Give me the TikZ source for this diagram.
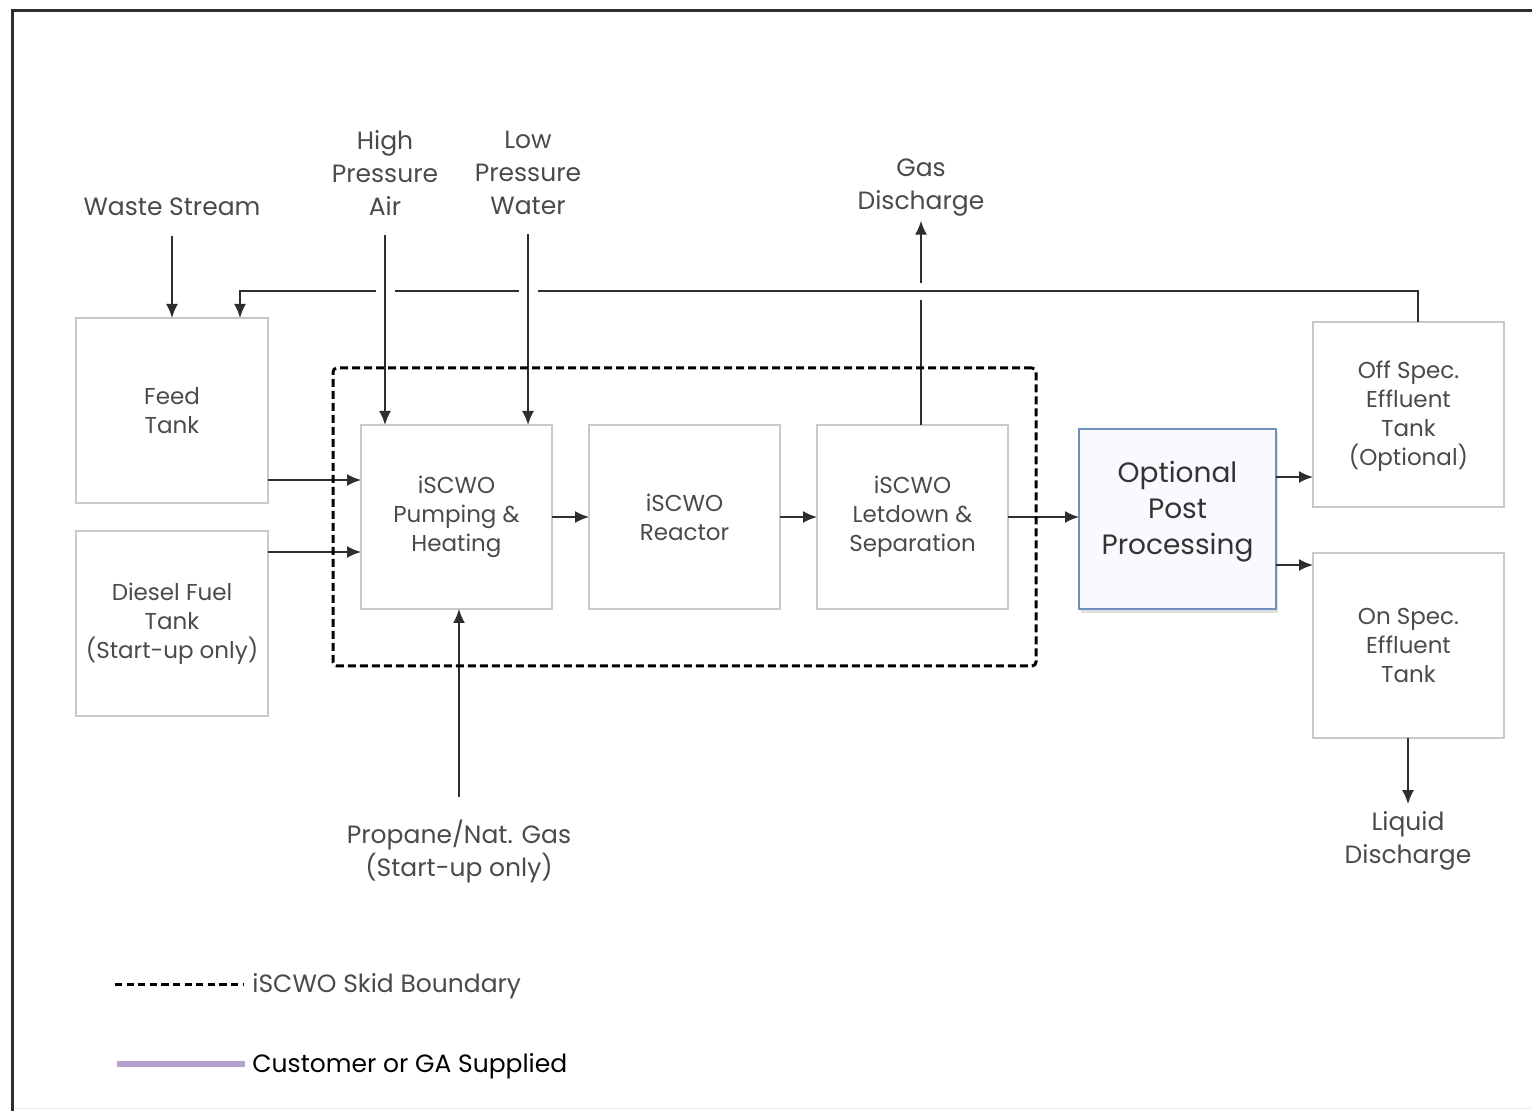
\documentclass[tikz,border=0pt]{standalone}
\usepackage{fontspec}
\setmainfont{Poppins}
\usepackage{tikz}
\usetikzlibrary{arrows.meta}
\usetikzlibrary{calc}
\usetikzlibrary{shadows}
\usetikzlibrary{positioning}
\usetikzlibrary{fit}

\definecolor{boxgray}{HTML}{C9C9C9}
\definecolor{txtgray}{HTML}{4A4A4A}
\definecolor{linegray}{HTML}{2E2E2E}
\definecolor{optblue}{HTML}{6F8FBE}
\definecolor{optfill}{HTML}{F8FAFD}
\definecolor{gasupp}{HTML}{B3A3CB}

\begin{document}
\begin{tikzpicture}[x=0.5pt, y=-0.5pt,
    tank/.style={draw=boxgray, line width=0.75pt, minimum width=96pt, minimum height=92.5pt,
                 align=center, text=txtgray, outer sep=0pt, font=\fontsize{11.5}{14.5}\selectfont},
    optbox/.style={draw=optblue, line width=1pt, fill=optfill, minimum width=98.5pt, minimum height=90pt,
                   align=center, text=black!80, outer sep=0pt, text depth=11pt, font=\fontsize{14}{18}\selectfont,
                   drop shadow={shadow xshift=1pt, shadow yshift=-2pt, opacity=0.25}},
    stream/.style={align=center, text=txtgray, inner sep=0pt, font=\fontsize{12.5}{16.5}\selectfont},
    arr/.style={draw=linegray, line width=1pt, -{Latex[length=7pt, width=6pt]}},
    pipe/.style={draw=linegray, line width=1pt},
    skid/.style={draw=black, line width=1.5pt, dash pattern=on 4pt off 2pt},
    galine/.style={draw=gasupp, line width=3pt}]

    \useasboundingbox (0,0) rectangle (1532,1111);
    \draw[linegray, line width=1.5pt] (1532,11) -- (12,11) -- (12,1111);
    \draw[black!8, line width=0.5pt] (14,1108) -- (1532,1108);

    % tanks and process steps
    \node[tank] (feed) at (172,410.5) {Feed\\Tank};
    \node[tank] (dsl) at (172,623.5) {Diesel Fuel\\Tank\\(Start-up only)};
    \node[tank, minimum width=95.5pt, minimum height=92pt] (pump) at (456.5,517) {iSCWO\\Pumping \&\\Heating};
    \node[tank, minimum width=95.5pt, minimum height=92pt, right=18.5pt of pump] (reac) {iSCWO\\Reactor};
    \node[tank, minimum width=95.5pt, minimum height=92pt, right=18.5pt of reac] (let) {iSCWO\\Letdown \&\\Separation};
    \node[optbox] (opt) at (1177.5,519) {Optional\\Post\\Processing};
    \node[tank, minimum width=95.5pt, text depth=1.5pt] (off) at (1408.5,414.5) {Off Spec.\\Effluent\\Tank\\(Optional)};
    \node[tank, minimum width=95.5pt] (on) at (1408.5,645.5) {On Spec.\\Effluent\\Tank};

    % streams in and out
    \node[stream] (ws) at (172,207) {Waste Stream};
    \node[stream] (hpa) at (385,173) {High\\Pressure\\Air};
    \node[stream] (lpw) at (528,173) {Low\\Pressure\\Water};
    \node[stream] (gas) at (921,187.5) {Gas\\Discharge};
    \node[stream] (prop) at (459,851) {Propane/Nat. Gas\\(Start-up only)};
    \node[stream] (liq) at (1408,841) {Liquid\\Discharge};
    \coordinate (ret) at (0,291);

    \draw[arr, shorten <=10pt] (ws.south) -- (feed.north);
    \draw[arr, shorten <=9.5pt] (hpa.south) -- (hpa.south |- pump.north);
    \draw[arr, shorten <=9.5pt] (lpw.south) -- (lpw.south |- pump.north);
    \draw[arr, shorten <=11pt] (prop.north) -- (prop.north |- pump.south);
    \draw[arr, shorten >=3.5pt] (on.south -| liq.north) -- (liq.north);

    \draw[pipe] (gas.south |- let.north) -- ++(0,-125);
    \draw[arr, shorten >=2pt] ($(gas.south |- ret)+(0,-8)$) -- (gas.south);

    % off spec return to feed tank
    \draw[pipe] ([xshift=4.5pt]off.north) |- ($(lpw.south |- ret)+(9.5,0)$);
    \draw[pipe] ($(lpw.south |- ret)+(-9.5,0)$) -- ($(hpa.south |- ret)+(9.5,0)$);
    \draw[arr] ($(hpa.south |- ret)+(-9.5,0)$) -| ([xshift=34pt]feed.north);

    \draw[arr] (feed.east |- 0,480) -- (pump.west |- 0,480);
    \draw[arr] (dsl.east |- 0,552) -- (pump.west |- 0,552);
    \draw[arr] (pump) -- (reac);
    \draw[arr] (reac) -- (let);
    \draw[arr] (let.east) -- (let.east -| opt.west);
    \draw[arr] (opt.east |- 0,477) -- (off.west |- 0,477);
    \draw[arr] (opt.east |- 0,565) -- (on.west |- 0,565);

    \node[skid, rounded corners=2pt, fit=(pump)(let), inner xsep=14pt, inner ysep=28.5pt] (skidbox) {};

    % legend
    \node[stream, anchor=west] (lgskid) at (252,986) {iSCWO Skid Boundary};
    \coordinate (lgskid0) at (115,984);
    \draw[skid, dash pattern=on 3.6pt off 2.2pt] (lgskid0) -- ([xshift=-4.5pt]lgskid.west |- lgskid0);
    \node[stream, anchor=west, text=black] (lgga) at (252,1066) {Customer or GA Supplied};
    \coordinate (lgga0) at (117,1064);
    \draw[galine] (lgga0) -- ([xshift=-3.5pt]lgga.west |- lgga0);
\end{tikzpicture}
\end{document}
